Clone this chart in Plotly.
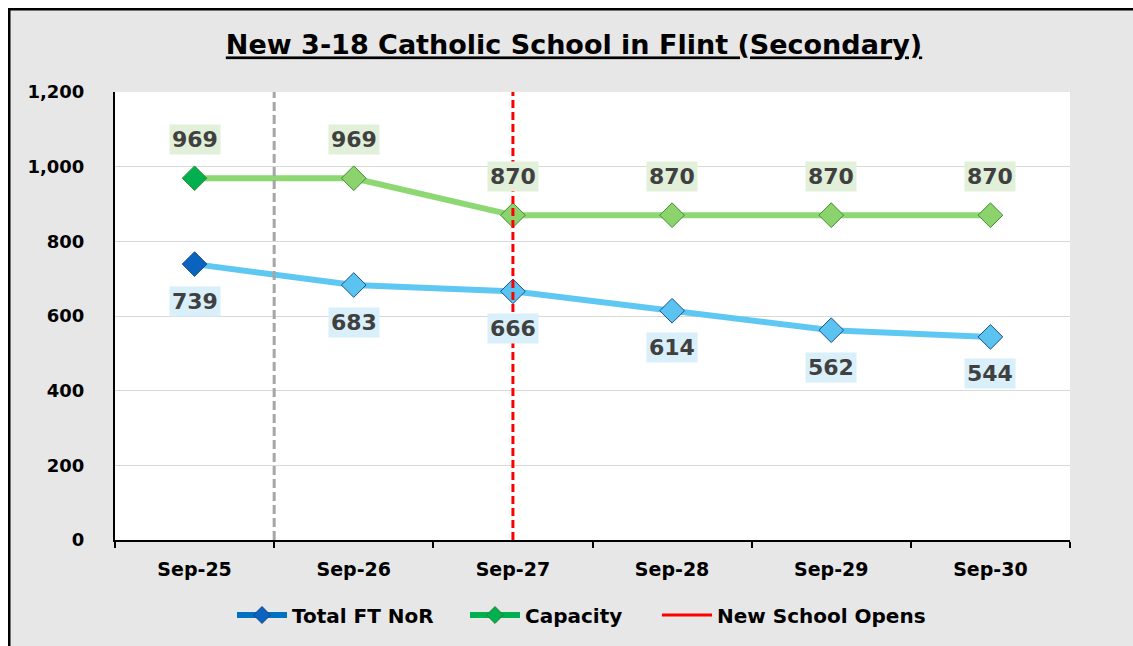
import plotly.graph_objects as go

categories = ["Sep-25", "Sep-26", "Sep-27", "Sep-28", "Sep-29", "Sep-30"]
total_ft_nor = [739, 683, 666, 614, 562, 544]
capacity = [969, 969, 870, 870, 870, 870]
new_school_opens = "Sep-27"
title_text = "New 3-18 Catholic School in Flint (Secondary)"
y_ticks = [0, 200, 400, 600, 800, 1000, 1200]

W, H = 1125, 638
ML, MR, MT, MB = 107, 63, 84, 106
PW, PH = W - ML - MR, H - MT - MB

def px_to_paper_x(px):
    return (px - ML) / PW

def px_to_paper_y(py):
    return (H - MB - py) / PH

main_font = "DejaVu Sans, Verdana, sans-serif"
label_font = dict(family=main_font, size=22, color="#404040", weight="bold")

fig = go.Figure()

nor_fill = ["#0b63c0"] + ["#5bc3f0"] * (len(categories) - 1)
cap_fill = ["#00b050"] + ["#8cd36d"] * (len(categories) - 1)

fig.add_trace(go.Scatter(
    x=categories, y=total_ft_nor, mode="lines+markers", showlegend=False,
    line=dict(color="#5ec8f2", width=6),
    marker=dict(symbol="diamond", size=19, color=nor_fill,
                line=dict(color="#1f4e8c", width=1)),
))
fig.add_trace(go.Scatter(
    x=categories, y=capacity, mode="lines+markers", showlegend=False,
    line=dict(color="#8dd873", width=6),
    marker=dict(symbol="diamond", size=19, color=cap_fill,
                line=dict(color="#3c8f2f", width=1)),
))

# legend entries (each in its own legend box so they can be spaced like the original)
fig.add_trace(go.Scatter(
    x=[None], y=[None], mode="lines+markers", name="Total FT NoR", legend="legend",
    line=dict(color="#0070c0", width=6),
    marker=dict(symbol="diamond", size=13, color="#0b63c0", line=dict(color="#1f3f7a", width=1)),
))
fig.add_trace(go.Scatter(
    x=[None], y=[None], mode="lines+markers", name="Capacity", legend="legend2",
    line=dict(color="#00b050", width=6),
    marker=dict(symbol="diamond", size=13, color="#00b050", line=dict(color="#2e7d32", width=1)),
))
fig.add_trace(go.Scatter(
    x=[None], y=[None], mode="lines", name="New School Opens", legend="legend3",
    line=dict(color="#ff0000", width=3),
))

annotations = []
for c, v in zip(categories, capacity):
    annotations.append(dict(x=c, y=v, xref="x", yref="y", text=f"{v}", showarrow=False,
                            yshift=39, font=label_font, bgcolor="#e2f0d9", borderpad=2))
for c, v in zip(categories, total_ft_nor):
    annotations.append(dict(x=c, y=v, xref="x", yref="y", text=f"{v}", showarrow=False,
                            yshift=-37, font=label_font, bgcolor="#d9f0fb", borderpad=2))

shapes = [
    dict(type="line", xref="x", yref="paper", x0=0.5, x1=0.5, y0=0, y1=1,
         line=dict(color="#a6a6a6", width=3, dash="9px,4px"), layer="above"),
    dict(type="line", xref="x", yref="paper", x0=categories.index(new_school_opens),
         x1=categories.index(new_school_opens), y0=0, y1=1,
         line=dict(color="#ff0000", width=3, dash="8px,4px"), layer="above"),
    # outer frame (left and top edges)
    dict(type="line", xref="paper", yref="paper", x0=px_to_paper_x(1), x1=px_to_paper_x(1),
         y0=px_to_paper_y(H), y1=px_to_paper_y(0), line=dict(color="black", width=3)),
    dict(type="line", xref="paper", yref="paper", x0=px_to_paper_x(0), x1=px_to_paper_x(W),
         y0=px_to_paper_y(1), y1=px_to_paper_y(1), line=dict(color="black", width=3)),
]

ITEMW = 50
legend_common = dict(orientation="h", xanchor="left", yanchor="middle", y=px_to_paper_y(607),
                     font=dict(family=main_font, size=20, color="black", weight="bold"),
                     bgcolor="rgba(0,0,0,0)", itemwidth=ITEMW)
off = 8 + 10 + ITEMW

fig.update_layout(
    width=W, height=H,
    margin=dict(l=ML, r=MR, t=MT, b=MB, autoexpand=False),
    paper_bgcolor="#e7e7e7", plot_bgcolor="white",
    title=dict(text=f"<u><b>{title_text}</b></u>", x=566 / W, xref="container", xanchor="center",
               y=1 - 37 / H, yref="container", yanchor="middle",
               font=dict(family=main_font, size=27, color="black")),
    showlegend=True,
    legend=dict(legend_common, x=px_to_paper_x(292 - off)),
    legend2=dict(legend_common, x=px_to_paper_x(525 - off)),
    legend3=dict(legend_common, x=px_to_paper_x(717 - off)),
    annotations=annotations, shapes=shapes,
)

fig.update_xaxes(
    type="category", categoryorder="array", categoryarray=categories,
    range=[-0.5, len(categories) - 0.5],
    showline=True, linecolor="black", linewidth=2, showgrid=False,
    ticks="outside", tickson="boundaries", ticklen=6, tickwidth=2, tickcolor="black",
    tickfont=dict(family=main_font, size=19, color="black", weight="bold"),
    ticklabelstandoff=11,
)
fig.update_yaxes(
    range=[0, 1200], tickvals=y_ticks, tickformat=",",
    showline=True, linecolor="black", linewidth=2, showgrid=True, gridcolor="#d9d9d9", gridwidth=1,
    zeroline=False, ticks="",
    tickfont=dict(family=main_font, size=18, color="black", weight="bold"),
    ticklabelstandoff=25,
)

fig.write_html(
    "out.html",
    post_script=("document.body.style.margin='8px 0 0 8px';"
                 "document.documentElement.style.overflow='hidden';"
                 "document.body.style.overflow='hidden';"),
)
